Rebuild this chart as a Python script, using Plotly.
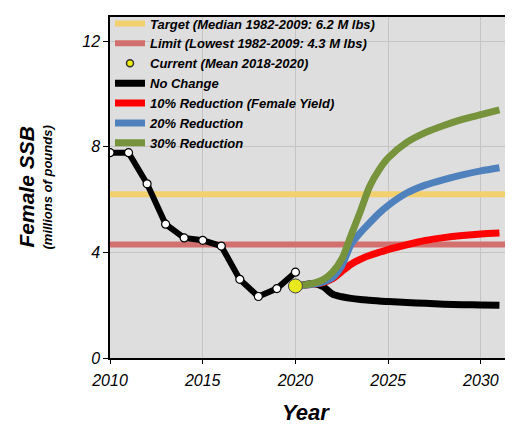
import plotly.graph_objects as go

# historical female SSB (millions of lbs)
hist_years = [2010, 2011, 2012, 2013, 2014, 2015, 2016, 2017, 2018, 2019, 2020]
hist_ssb = [7.78, 7.78, 6.6, 5.07, 4.55, 4.46, 4.24, 2.98, 2.33, 2.63, 3.25]

# reference points
TARGET = 6.2
LIMIT = 4.3
current_year = [2020]
current_ssb = [2.73]

# projections
proj_years = [2020, 2020.5, 2021, 2021.5, 2022, 2022.5, 2023, 2023.5, 2024, 2024.5,
              2025, 2026, 2027, 2028, 2029, 2030, 2031]
no_change = [2.73, 2.78, 2.82, 2.70, 2.42, 2.32, 2.26, 2.22, 2.19, 2.16,
             2.14, 2.10, 2.07, 2.04, 2.02, 2.01, 2.00]
red10 = [2.73, 2.76, 2.80, 2.86, 3.00, 3.28, 3.55, 3.74, 3.88, 4.00,
         4.11, 4.29, 4.45, 4.56, 4.64, 4.70, 4.74]
blue20 = [2.73, 2.76, 2.80, 2.88, 3.05, 3.50, 4.30, 4.75, 5.12, 5.48,
          5.78, 6.25, 6.55, 6.76, 6.94, 7.09, 7.21]
green30 = [2.73, 2.77, 2.84, 2.97, 3.25, 3.75, 4.65, 5.55, 6.50, 7.12,
           7.58, 8.17, 8.54, 8.81, 9.04, 9.22, 9.40]

XR = [2010, 2031.3]
FONT = "Liberation Sans, Arial, sans-serif"

fig = go.Figure()

# target / limit bands
fig.add_trace(go.Scatter(x=XR, y=[TARGET, TARGET], mode="lines",
                         line=dict(color="#F2D06E", width=6),
                         name="<i>Target (Median 1982-2009: 6.2 M lbs)</i>"))
fig.add_trace(go.Scatter(x=XR, y=[LIMIT, LIMIT], mode="lines",
                         line=dict(color="#D2706F", width=6),
                         name="<i>Limit (Lowest 1982-2009: 4.3 M lbs)</i>"))
# legend entry only for current point (small dot)
fig.add_trace(go.Scatter(x=[None], y=[None], mode="markers",
                         marker=dict(color="#EEEE10", size=7, line=dict(color="#333", width=1.5)),
                         name="<i>Current (Mean 2018-2020)</i>"))

fig.add_trace(go.Scatter(x=proj_years, y=no_change, mode="lines",
                         line=dict(color="black", width=7, shape="spline", smoothing=0.8),
                         name="<i>No Change</i>"))
fig.add_trace(go.Scatter(x=proj_years, y=red10, mode="lines",
                         line=dict(color="#FF0000", width=7, shape="spline", smoothing=0.8),
                         name="<i>10% Reduction (Female Yield)</i>"))
fig.add_trace(go.Scatter(x=proj_years, y=blue20, mode="lines",
                         line=dict(color="#4F81BD", width=7, shape="spline", smoothing=0.8),
                         name="<i>20% Reduction</i>"))
fig.add_trace(go.Scatter(x=proj_years, y=green30, mode="lines",
                         line=dict(color="#77933C", width=7, shape="spline", smoothing=0.8),
                         name="<i>30% Reduction</i>"))

# historical line with white markers
fig.add_trace(go.Scatter(x=hist_years, y=hist_ssb, mode="lines+markers",
                         line=dict(color="black", width=6),
                         marker=dict(color="white", size=8, line=dict(color="black", width=1.2)),
                         showlegend=False))
# current point
fig.add_trace(go.Scatter(x=current_year, y=current_ssb, mode="markers",
                         marker=dict(color="#E8E81E", size=14, line=dict(color="#444", width=1)),
                         showlegend=False))

# page body has an 8px margin: keep the figure inside the visible area
fig.update_layout(
    width=498, height=419,
    margin=dict(l=102, r=1, t=0, b=69),
    paper_bgcolor="white",
    plot_bgcolor="#DEDEDE",
    font=dict(family=FONT, color="black"),
    legend=dict(x=0.0, y=1.025, xanchor="left", yanchor="top",
                bgcolor="rgba(0,0,0,0)", font=dict(size=13, family=FONT, weight="bold"),
                tracegroupgap=0, itemwidth=30),
    annotations=[
        dict(text="<b><i>Female SSB</i></b>", textangle=-90, x=0, y=0.5,
             xref="paper", yref="paper", xanchor="center", yanchor="middle",
             xshift=-84, showarrow=False, font=dict(size=21, family=FONT)),
        dict(text="<b><i>(millions of pounds)</i></b>", textangle=-90, x=0, y=0.5,
             xref="paper", yref="paper", xanchor="center", yanchor="middle",
             xshift=-63, showarrow=False, font=dict(size=13, family=FONT)),
        dict(text="<b><i>Year</i></b>", x=0.5, y=0, xref="paper", yref="paper",
             xanchor="center", yanchor="middle", yshift=-54, xshift=-2,
             showarrow=False, font=dict(size=22, family=FONT)),
    ],
)

fig.update_xaxes(range=XR, tickvals=[2010, 2015, 2020, 2025, 2030],
                 showgrid=True, gridcolor="#C4C4C4", gridwidth=1, zeroline=False,
                 showline=True, linecolor="black", linewidth=1.5, mirror=True,
                 ticks="outside", ticklen=4, tickcolor="black", ticklabelstandoff=3,
                 tickfont=dict(size=16, family=FONT, style="italic"))
fig.update_yaxes(range=[0, 12.92], tickvals=[0, 4, 8, 12],
                 showgrid=True, gridcolor="#C4C4C4", gridwidth=1, zeroline=False,
                 showline=True, linecolor="black", linewidth=1.5,
                 ticks="outside", ticklen=5, tickcolor="black",
                 tickfont=dict(size=16, family=FONT, style="italic"))

fig.write_html("out.html")
